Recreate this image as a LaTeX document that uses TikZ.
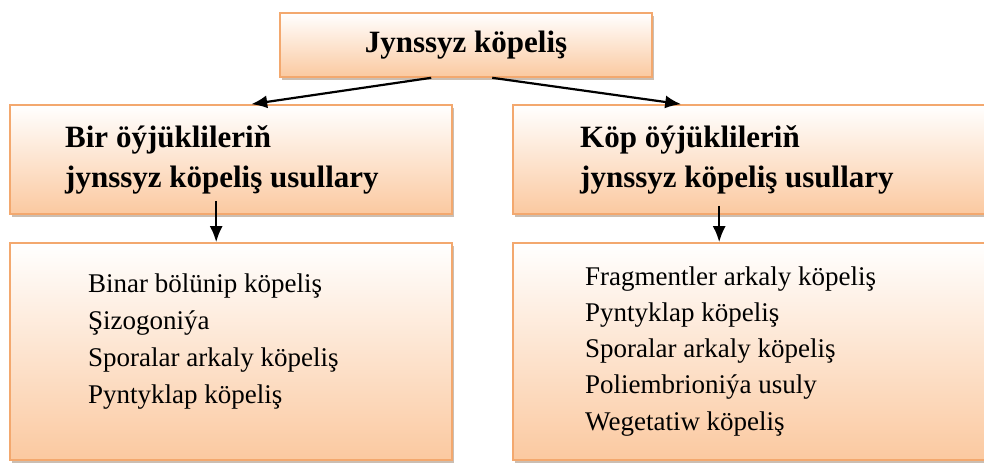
\documentclass[tikz,border=0pt]{standalone}
\usepackage{fontspec}
\setmainfont{Liberation Serif}
\usetikzlibrary{arrows.meta,shadows,calc}

\definecolor{boxline}{RGB}{243,168,110}
\definecolor{peach}{RGB}{251,201,160}

\tikzset{
  box/.style={rectangle, draw=boxline, line width=1.6pt, inner sep=0pt,
    top color=white, bottom color=peach,
    drop shadow={shadow xshift=2pt, shadow yshift=-2.5pt, fill=black!45!brown, opacity=.35}},
  headtext/.style={anchor=base west, inner sep=0pt, font=\fontsize{31}{40}\selectfont\bfseries},
  itemtext/.style={anchor=base west, inner sep=0pt, font=\fontsize{27}{36}\selectfont},
  conn/.style={draw=black, line width=2.2pt, -{Latex[length=16pt,width=13pt]}}
}

\begin{document}
\begin{tikzpicture}[x=1pt,y=-1pt]
  \useasboundingbox (0,0) rectangle (984,463);
  \clip (0,0) rectangle (984,463);

  % title box
  \node[box, minimum width=372pt, minimum height=64pt,
        font=\fontsize{31}{40}\selectfont\bfseries] (title) at (466,45) {Jynssyz köpeliş};

  % second row: single-celled and multicellular organisms
  \node[box, minimum width=442pt, minimum height=109pt] (lmid) at (231,159.5) {};
  \node[box, minimum width=480pt, minimum height=109pt] (rmid) at (753,159.5) {};

  % third row: lists of methods
  \node[box, minimum width=442pt, minimum height=217pt] (llist) at (231,351.5) {};
  \node[box, minimum width=480pt, minimum height=217pt] (rlist) at (753,351.5) {};

  % headings
  \node[headtext] (lh1) at (65,147) {Bir öýjüklileriň};
  \node[headtext] (lh2) at (65,187) {jynssyz köpeliş usullary};
  \node[headtext] (rh1) at (580,147) {Köp öýjüklileriň};
  \node[headtext] (rh2) at (580,187) {jynssyz köpeliş usullary};

  % left list
  \node[itemtext] (l1) at (88,292) {Binar bölünip köpeliş};
  \node[itemtext] (l2) at (88,329) {Şizogoniýa};
  \node[itemtext] (l3) at (88,366) {Sporalar arkaly köpeliş};
  \node[itemtext] (l4) at (88,403) {Pyntyklap köpeliş};

  % right list
  \node[itemtext] (r1) at (585,285) {Fragmentler arkaly köpeliş};
  \node[itemtext] (r2) at (585,321) {Pyntyklap köpeliş};
  \node[itemtext] (r3) at (585,357) {Sporalar arkaly köpeliş};
  \node[itemtext] (r4) at (585,393) {Poliembrioniýa usuly};
  \node[itemtext] (r5) at (585,430) {Wegetatiw köpeliş};

  % connectors
  \draw[conn] ([xshift=152pt]title.south west) -- ([xshift=242pt]lmid.north west);
  \draw[conn] ([xshift=213pt]title.south west) -- ([xshift=169pt]rmid.north west);
  \draw[conn] ([xshift=207pt,yshift=14pt]lmid.south west) -- ([xshift=207pt]llist.north west);
  \draw[conn] ([xshift=207pt,yshift=9pt]rmid.south west) -- ([xshift=207pt]rlist.north west);
\end{tikzpicture}
\end{document}
